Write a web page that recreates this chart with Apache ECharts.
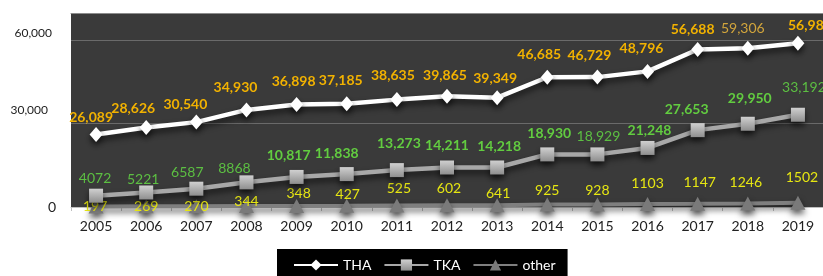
<!DOCTYPE html>
<html><head><meta charset="utf-8">
<script src="https://cdn.jsdelivr.net/npm/echarts@6/dist/echarts.min.js"></script>
<style>html,body{margin:0;padding:0;background:#fff}#c{width:823px;height:276px}</style>
</head><body><div id="c"></div>
<script>
// ---- data ----
const years = ['2005','2006','2007','2008','2009','2010','2011','2012','2013','2014','2015','2016','2017','2018','2019'];
const thaValues = [26089, 28626, 30540, 34930, 36898, 37185, 38635, 39865, 39349, 46685, 46729, 48796, 56688, 57100, 58900];
const thaLabelText = ['26,089','28,626','30,540','34,930','36,898','37,185','38,635','39,865','39,349','46,685','46,729','48,796','56,688','59,306','56,988'];
const tkaValues = [4072, 5221, 6587, 8868, 10817, 11838, 13273, 14211, 14218, 18930, 18929, 21248, 27653, 29950, 33192];
const otherValues = [197, 269, 270, 344, 348, 427, 525, 602, 641, 925, 928, 1103, 1147, 1246, 1502];
const yTickValues = [0, 30000, 60000];

// ---- label layout tweaks (relative offsets, not data) ----
const thaLabelOffset = [[-5,-17],[-13,-19],[-11,-18],[-11,-22],[-3,-23],[-6,-23],[-4,-24],[-2,-21],[-2,-19],[-8,-23],[-8,-22],[-6,-23],[-5,-20],[-5,-20],[12,-18]];
const tkaLabelOffset = [[-1,-17],[-3,-13],[-9,-16],[-12,-14],[-8,-21],[-10,-21],[2,-27],[0,-22],[2,-21],[2,-21],[1,-18],[2,-17],[-11,-21],[2,-25],[6,-27]];
const otherLabelOffset = [[-1,0],[0,0],[0,0],[0,-5],[2,-13],[1,-11],[2,-17],[2,-17],[1,-12],[0,-14],[0,-14],[0,-20],[2,-21],[-2,-21],[4,-25]];
const thaPlainIdx = [13];
const tkaPlainIdx = [0,1,2,3,10,14];

const FONT = 'Lato, "Liberation Sans", sans-serif';
function fmt(v){ return v >= 10000 ? v.toLocaleString('en-US') : String(v); }

const chart = echarts.init(document.getElementById('c'), null, {renderer:'canvas'});
const shadow = {shadowColor:'rgba(0,0,0,0.65)', shadowBlur:6, shadowOffsetY:4};

const option = {
  animation:false,
  backgroundColor:'#ffffff',
  textStyle:{fontFamily:FONT},
  grid:{left:71, top:13, width:759, height:194, show:true, backgroundColor:'#3a3a3a', borderWidth:0, containLabel:false},
  legend:{
    data:['THA','TKA','other'],
    left:277, top:249,
    padding:[9,12,14,16],
    backgroundColor:'#000000',
    itemWidth:44, itemHeight:14, itemGap:12,
    textStyle:{color:'#ffffff', fontSize:14, fontFamily:FONT}
  },
  xAxis:[{
    type:'category', data:years, boundaryGap:true,
    axisLine:{lineStyle:{color:'#bfbfbf', width:1}},
    axisTick:{show:true, length:4, alignWithLabel:false, lineStyle:{color:'#bfbfbf'}},
    axisLabel:{color:'#222', fontSize:14, margin:12, fontFamily:FONT},
    splitLine:{show:false}
  },{
    type:'category', data:years, position:'top',
    axisLine:{lineStyle:{color:'#8c8c8c', width:1}},
    axisTick:{show:false}, axisLabel:{show:false}, splitLine:{show:false}
  }],
  yAxis:{
    type:'value', min:0, max:69800, interval:30000,
    axisLine:{show:false}, axisTick:{show:false},
    splitLine:{show:true, showMaxLine:false, lineStyle:{color:'#6a6a6a', width:1}},
    axisLabel:{
      margin:15, color:'#222', fontFamily:FONT,
      formatter:function(v){
        const i = yTickValues.indexOf(v);
        if (i < 0) return '';
        return '{t' + i + '|' + v.toLocaleString('en-US') + '}';
      },
      rich:{
        t0:{fontSize:14, color:'#222', fontFamily:FONT},
        t1:{fontSize:12, color:'#222', fontFamily:FONT, padding:[0,8,26,0]},
        t2:{fontSize:12, color:'#222', fontFamily:FONT, padding:[0,4,14,0]}
      }
    }
  },
  series:[
    {
      name:'THA', type:'line', xAxisIndex:0,
      symbol:'diamond', symbolSize:[13,15],
      lineStyle:Object.assign({color:'#ffffff', width:4.5}, shadow),
      itemStyle:Object.assign({color:'#ffffff'}, shadow),
      z:3,
      label:{show:true, position:'inside', color:'#f2b200', fontWeight:'bold', fontSize:14, fontFamily:FONT,
        formatter:function(p){ return thaLabelText[p.dataIndex]; }},
      data:thaValues.map(function(v,i){
        const it = {value:v, label:{offset:thaLabelOffset[i]}};
        if (thaPlainIdx.indexOf(i) >= 0){ it.label.fontWeight='normal'; it.label.color='#d2a53c'; }
        return it;
      })
    },
    {
      name:'TKA', type:'line', xAxisIndex:0,
      symbol:'rect', symbolSize:14,
      lineStyle:Object.assign({color:'#a8a8a8', width:4.5}, shadow),
      itemStyle:Object.assign({color:new echarts.graphic.LinearGradient(0,0,0,1,[{offset:0,color:'#d0d0d0'},{offset:1,color:'#8e8e8e'}])}, shadow),
      z:2,
      label:{show:true, position:'inside', color:'#62cc40', fontWeight:'bold', fontSize:14, fontFamily:FONT,
        formatter:function(p){ return fmt(p.value); }},
      data:tkaValues.map(function(v,i){
        const it = {value:v, label:{offset:tkaLabelOffset[i]}};
        if (tkaPlainIdx.indexOf(i) >= 0){ it.label.fontWeight='normal'; it.label.color='#5cbf42'; }
        return it;
      })
    },
    {
      name:'other', type:'line', xAxisIndex:0, clip:false,
      symbol:'triangle', symbolSize:[15,14],
      lineStyle:Object.assign({color:'#7f7f7f', width:4}, shadow),
      itemStyle:Object.assign({color:'#7a7a7a'}, shadow),
      z:1,
      label:{show:true, position:'inside', color:'#e6e612', fontWeight:'normal', fontSize:14, fontFamily:FONT,
        formatter:function(p){ return fmt(p.value); }},
      data:otherValues.map(function(v,i){ return {value:v, label:{offset:otherLabelOffset[i]}}; })
    }
  ]
};
chart.setOption(option);
</script>
</body></html>
